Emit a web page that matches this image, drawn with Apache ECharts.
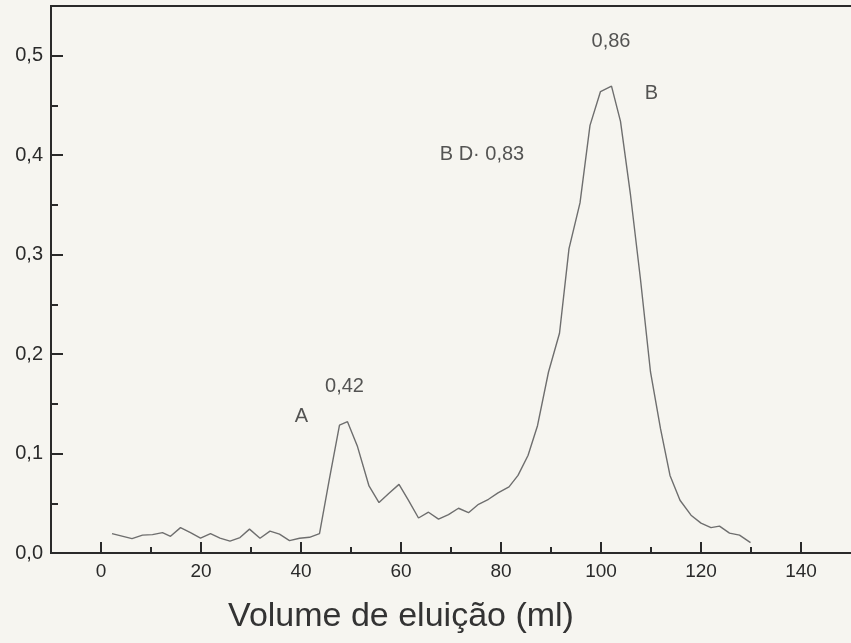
<!DOCTYPE html>
<html>
<head>
<meta charset="utf-8">
<script src="https://cdn.jsdelivr.net/npm/echarts@6/dist/echarts.min.js"></script>
<style>
  html, body { margin: 0; padding: 0; background: #f6f5f0; }
  #chart { width: 851px; height: 643px; }
</style>
</head>
<body>
<div id="chart"></div>
<script>
// elution volume (ml) and absorbance
var volume = [2.2, 6.2, 8.3, 10.3, 12.3, 13.9, 15.9, 17.9, 19.9, 21.9, 23.8, 25.8, 27.8, 29.7,
  31.8, 33.8, 35.7, 37.7, 39.7, 41.7, 43.7, 45.7, 47.7, 49.3, 51.3, 53.6, 55.6, 57.6, 59.6,
  61.5, 63.5, 65.5, 67.5, 69.5, 71.5, 73.5, 75.5, 77.5, 79.4, 81.6, 83.4, 85.4, 87.3, 89.5,
  91.7, 93.6, 95.8, 97.8, 99.9, 102.1, 103.9, 105.9, 107.9, 109.9, 111.9, 113.8, 115.8,
  118.0, 120.0, 122.0, 123.7, 125.7, 127.7, 129.9];
var absorb = [0.0195, 0.0145, 0.018, 0.0185, 0.0205, 0.0168, 0.0255, 0.0205, 0.015, 0.0195,
  0.015, 0.012, 0.0155, 0.024, 0.0148, 0.022, 0.019, 0.0125, 0.0148, 0.0158, 0.0195, 0.075,
  0.1285, 0.132, 0.107, 0.0674, 0.0507, 0.06, 0.069, 0.053, 0.0352, 0.041, 0.034, 0.0385,
  0.045, 0.0405, 0.049, 0.054, 0.0605, 0.0665, 0.078, 0.098, 0.128, 0.182, 0.221, 0.306,
  0.352, 0.43, 0.464, 0.4695, 0.434, 0.36, 0.275, 0.182, 0.125, 0.078, 0.053, 0.038, 0.030,
  0.0255, 0.027, 0.020, 0.018, 0.0105];

var xMajor = [0, 20, 40, 60, 80, 100, 120, 140];
var xMinor = [10, 30, 50, 70, 90, 110, 130];
var yMajor = [0, 0.1, 0.2, 0.3, 0.4, 0.5];
var yMinor = [0.05, 0.15, 0.25, 0.35, 0.45];

// peak notes, placed in data units
var noteText = ['0,86', 'B', 'B D\u00b7 0,83', '0,42', 'A'];
var noteX = [102, 110.1, 76.2, 48.7, 40.1];
var noteY = [0.514, 0.4625, 0.401, 0.167, 0.1375];

var ink = '#2a2a2a';
var font = 'Liberation Sans, Arial, sans-serif';

var chart = echarts.init(document.getElementById('chart'));

var pts = volume.map(function (v, i) { return [v, absorb[i]]; });
var notes = noteText.map(function (t, i) { return { value: [noteX[i], noteY[i]], name: t }; });

function xAx(pos, ticks, len, labels) {
  return {
    type: 'value', position: pos, min: -10, max: 150,
    axisLine: { show: true, onZero: false, lineStyle: { color: ink, width: 2 } },
    axisTick: { show: !!ticks, inside: true, length: len, customValues: ticks || [],
      lineStyle: { color: ink, width: 2 } },
    axisLabel: { show: !!labels, customValues: labels || [], margin: 9,
      color: ink, fontSize: 19, fontFamily: font },
    splitLine: { show: false }
  };
}

function yAx(ticks, len, labels) {
  return {
    type: 'value', position: 'left', min: 0, max: 0.55,
    axisLine: { show: true, onZero: false, lineStyle: { color: ink, width: 2 } },
    axisTick: { show: true, inside: true, length: len, customValues: ticks,
      lineStyle: { color: ink, width: 2 } },
    axisLabel: { show: !!labels, customValues: labels || [], margin: 8,
      color: ink, fontSize: 20, fontFamily: font,
      formatter: function (v) { return v.toFixed(1).replace('.', ','); } },
    splitLine: { show: false }
  };
}

var option = {
  backgroundColor: '#f6f5f0',
  animation: false,
  grid: { left: 51, right: -5, top: 6, bottom: 90 },
  xAxis: [
    xAx('bottom', xMajor, 11, xMajor),
    xAx('bottom', xMinor, 6, null),
    xAx('top', null, 0, null)
  ],
  yAxis: [
    yAx(yMajor, 12, yMajor),
    yAx(yMinor, 7, null)
  ],
  graphic: [{
    type: 'text', x: 401, y: 617,
    style: { text: 'Volume de eluição (ml)', x: 0, y: 0, align: 'center', verticalAlign: 'middle',
      fill: '#333333', fontSize: 34, fontFamily: font }
  }],
  series: [
    {
      type: 'line', data: pts, xAxisIndex: 0, yAxisIndex: 0,
      showSymbol: false, symbol: 'none',
      lineStyle: { color: '#6e6e6e', width: 1.4 }
    },
    {
      type: 'scatter', data: notes, xAxisIndex: 0, yAxisIndex: 0,
      symbolSize: 0, silent: true,
      label: { show: true, position: 'inside', formatter: '{b}',
        color: ink, fontSize: 20, fontFamily: font }
    }
  ]
};

chart.setOption(option);
</script>
</body>
</html>
